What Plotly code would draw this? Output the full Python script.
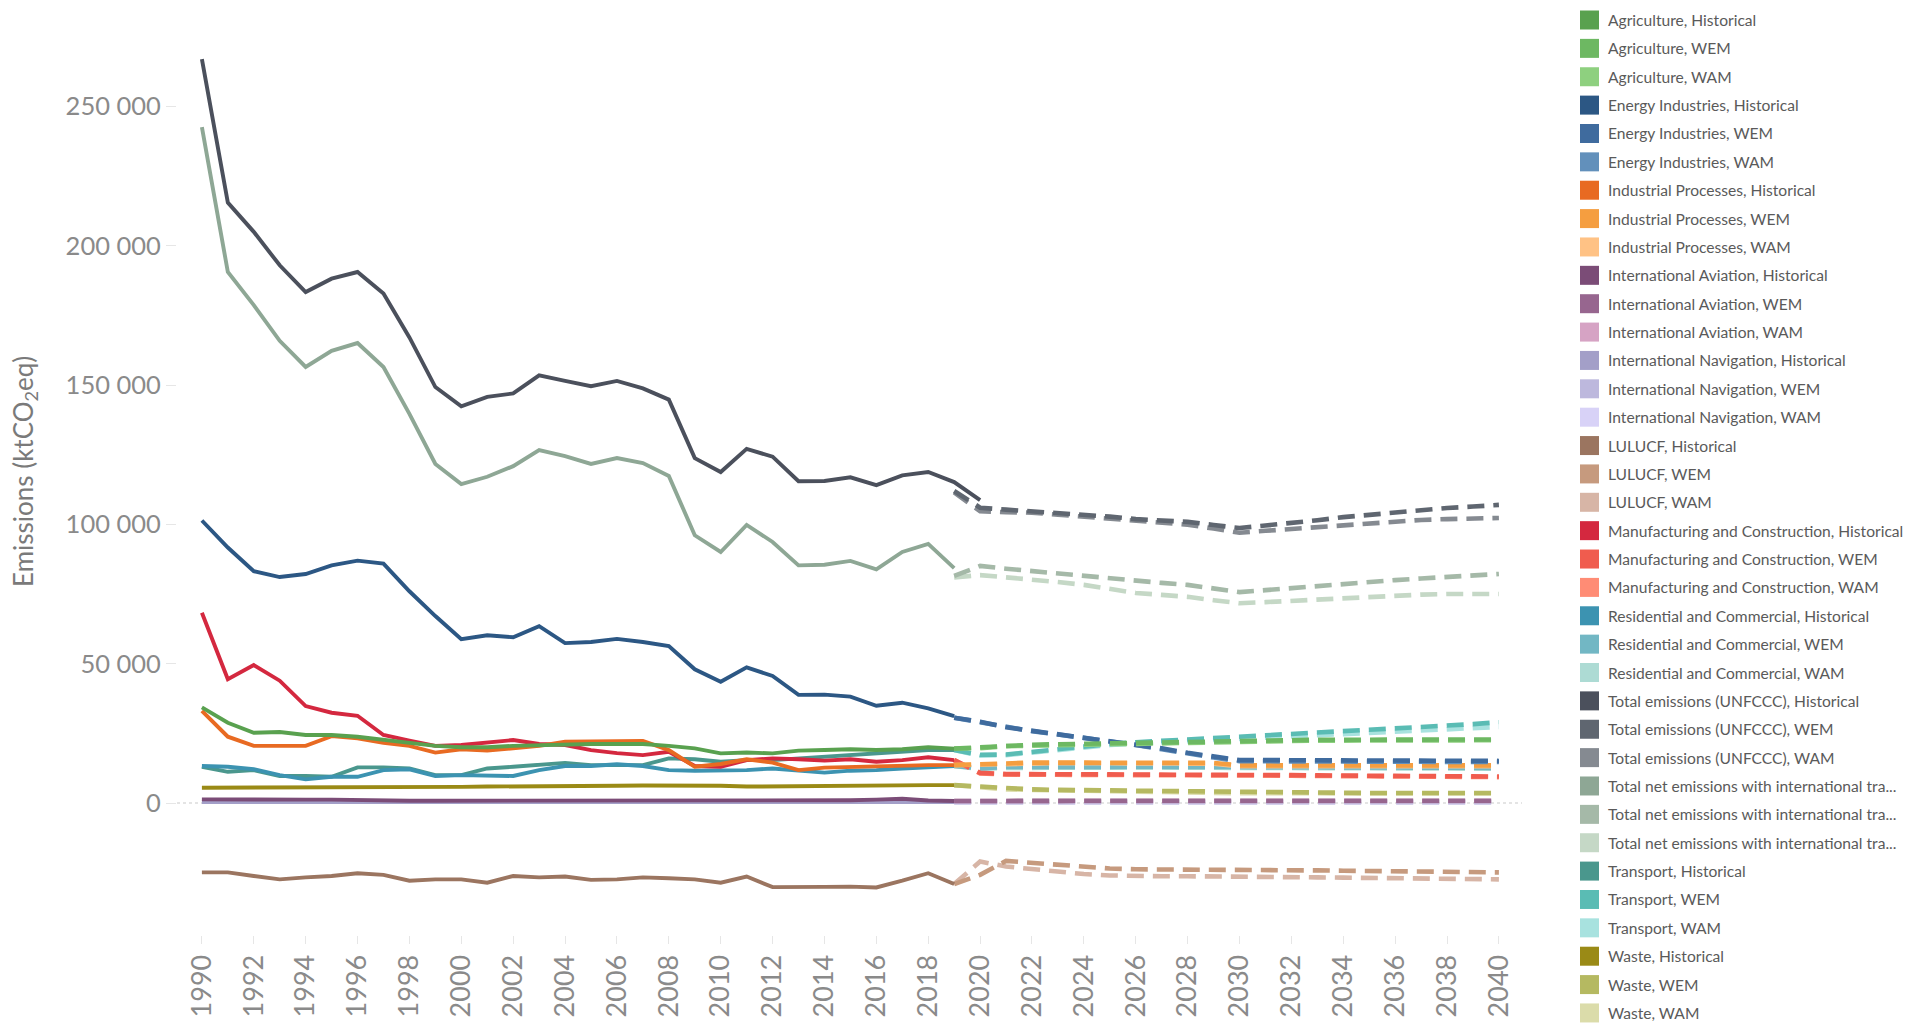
import plotly.graph_objects as go

# ---- data (ktCO2eq) ----
years_hist = list(range(1990, 2020))
years_total_hist = list(range(1990, 2021))
years_proj = list(range(2019, 2041))
tick_years = list(range(1990, 2041, 2))
y_ticks = [0, 50000, 100000, 150000, 200000, 250000]

agriculture_hist = [34300, 28800, 25200, 25500, 24400, 24400, 23800, 22600, 21600, 20500,
                    20000, 20000, 20500, 20800, 20800, 21200, 21200, 21200, 20500, 19600,
                    17800, 18100, 17800, 18800, 19000, 19300, 19000, 19300, 20000, 19500]
agriculture_wem = [19500, 20000, 20700, 20900, 21100, 21300, 21500, 21700, 21900, 22100, 22300,
                   22500, 22600, 22600, 22700, 22700, 22800, 22800, 22800, 22800, 22800, 22800]
agriculture_wam = [19500, 19700, 20400, 20600, 20800, 21000, 21200, 21400, 21600, 21800, 22000,
                   22200, 22300, 22300, 22400, 22400, 22500, 22500, 22500, 22500, 22500, 22500]

energy_hist = [101400, 91700, 83200, 81100, 82200, 85300, 87000, 85900, 76000, 67100,
               58800, 60200, 59500, 63500, 57400, 57800, 58900, 57800, 56300, 48000,
               43500, 48700, 45600, 38800, 38900, 38200, 34900, 36000, 34000, 31200]
energy_wem = [30600, 29200, 27200, 26000, 24800, 23600, 22400, 21100, 19600, 18000, 16600,
              15400, 15400, 15400, 15300, 15300, 15300, 15200, 15200, 15200, 15200, 15100]
energy_wam = [30600, 29000, 27000, 25800, 24600, 23400, 22200, 20800, 19300, 17700, 16300,
              15000, 15000, 15000, 14900, 14900, 14900, 14800, 14800, 14800, 14800, 14700]

industrial_hist = [33100, 23800, 20500, 20500, 20500, 24000, 23200, 21600, 20500, 18100,
                   19300, 18800, 19600, 20500, 22000, 22200, 22300, 22300, 19000, 13000,
                   14000, 15700, 14500, 11800, 12700, 13000, 13000, 13300, 13600, 13600]
industrial_wem = [13600, 14000, 14400, 14500, 14500, 14500, 14500, 14500, 14500, 14500, 14400,
                  13500, 13500, 13500, 13500, 13500, 13500, 13500, 13500, 13500, 13500, 13500]
industrial_wam = [13600, 13800, 14200, 14300, 14300, 14300, 14300, 14300, 14300, 14300, 14100,
                  13200, 13200, 13200, 13200, 13200, 13200, 13200, 13200, 13200, 13200, 13200]

aviation_hist = [1300, 1200, 1300, 1300, 1200, 1200, 1000, 900, 800, 800,
                 800, 800, 800, 800, 800, 800, 800, 800, 800, 700,
                 800, 800, 800, 800, 900, 1000, 1200, 1500, 900, 700]
aviation_wem = [700, 800, 800, 800, 800, 800, 800, 800, 800, 800, 800,
                800, 800, 800, 800, 800, 800, 800, 800, 800, 800, 800]
aviation_wam = [700, 700, 700, 700, 700, 700, 700, 700, 700, 700, 700,
                700, 700, 700, 700, 700, 700, 700, 700, 700, 700, 700]

navigation_hist = [300, 300, 300, 300, 300, 300, 300, 300, 300, 300,
                   300, 300, 300, 300, 300, 300, 300, 300, 300, 300,
                   300, 300, 300, 300, 300, 300, 300, 300, 300, 300]
navigation_wem = [300, 300, 300, 300, 300, 300, 300, 300, 300, 300, 300,
                  300, 300, 300, 300, 300, 300, 300, 300, 300, 300, 300]
navigation_wam = [300, 300, 300, 300, 300, 300, 300, 300, 300, 300, 300,
                  300, 300, 300, 300, 300, 300, 300, 300, 300, 300, 300]

lulucf_hist = [-24900, -24900, -26200, -27400, -26700, -26200, -25200, -25800, -27900, -27400,
               -27400, -28600, -26200, -26700, -26400, -27600, -27400, -26700, -27000, -27400,
               -28600, -26400, -30200, -30300, -30100, -30000, -30300, -27900, -25200, -29100]
lulucf_wem = [-29100, -25800, -20800, -21500, -22300, -23000, -23500, -23800, -23800, -23800, -23800,
              -23800, -24000, -24100, -24200, -24300, -24400, -24500, -24600, -24700, -24800, -24900]
lulucf_wam = [-29100, -21000, -22800, -23800, -24800, -25500, -26000, -26300, -26300, -26300, -26300,
              -26300, -26500, -26600, -26700, -26800, -26900, -27000, -27100, -27200, -27300, -27400]

manufacturing_hist = [68300, 44400, 49500, 43900, 34800, 32400, 31300, 24400, 22400, 20500,
                      20800, 21600, 22600, 21200, 20800, 19000, 17900, 17200, 18400, 13300,
                      13000, 15400, 16000, 15700, 15200, 15700, 14800, 15400, 16400, 15400]
manufacturing_wem = [15400, 10800, 10400, 10400, 10400, 10300, 10300, 10300, 10200, 10200, 10200,
                     10100, 10000, 10000, 9900, 9900, 9800, 9800, 9700, 9700, 9600, 9500]
manufacturing_wam = [15400, 10600, 10200, 10200, 10200, 10100, 10100, 10100, 10000, 10000, 10000,
                     9900, 9800, 9800, 9700, 9700, 9600, 9600, 9500, 9500, 9400, 9300]

residential_hist = [13300, 13000, 12100, 10000, 8500, 9400, 9400, 11800, 12100, 9700,
                    10000, 9700, 9700, 11800, 13300, 13300, 13900, 13300, 11800, 11600,
                    11600, 11800, 12400, 11800, 10900, 11600, 11800, 12400, 13000, 13300]
residential_wem = [13300, 12400, 12900, 13000, 13000, 13000, 13000, 13000, 13000, 13000, 12900,
                   12600, 12600, 12600, 12600, 12600, 12600, 12600, 12600, 12600, 12600, 12600]
residential_wam = [13300, 12200, 12600, 12700, 12700, 12700, 12700, 12700, 12700, 12700, 12600,
                   12300, 12300, 12300, 12300, 12300, 12300, 12300, 12300, 12300, 12300, 12300]

total_hist = [267000, 215500, 205000, 193000, 183400, 188200, 190600, 182900, 167100, 149300,
              142400, 145800, 147000, 153500, 151500, 149600, 151500, 148800, 144800, 123800,
              118800, 127100, 124300, 115500, 115600, 116900, 114100, 117600, 118800, 115200,
              108700]
total_wem = [112000, 106000, 105300, 104700, 104200, 103700, 102800, 101900, 101400, 100900, 99800,
             98700, 99600, 100400, 101500, 102600, 103500, 104400, 105100, 105900, 106400, 107000]
total_wam = [111500, 104700, 104400, 104200, 103500, 102800, 102000, 101300, 100600, 99900, 98500,
             97000, 97700, 98400, 99100, 99900, 100600, 101300, 101600, 101900, 102100, 102300]

total_net_hist = [242600, 190600, 178700, 165900, 156500, 162300, 165100, 156500, 139700, 121700,
                  114500, 117100, 120900, 126700, 124500, 121700, 123800, 122000, 117400, 96100,
                  90100, 99800, 93700, 85300, 85500, 86900, 83900, 90100, 93000, 84300]
total_net_wem = [81500, 85100, 84100, 83200, 82300, 81500, 80600, 79700, 79000, 78300, 77000,
                 75700, 76400, 77200, 77900, 78600, 79300, 80000, 80600, 81200, 81700, 82200]
total_net_wam = [81000, 81800, 81000, 80300, 79300, 78300, 76800, 75400, 74700, 74000, 72800,
                 71700, 72100, 72600, 73100, 73600, 74100, 74600, 74800, 75000, 75000, 75000]

transport_hist = [13000, 11200, 11800, 9700, 9700, 9400, 12800, 12800, 12400, 10000,
                  10000, 12400, 13000, 13600, 14400, 13600, 13600, 13600, 16000, 15700,
                  14800, 15400, 15400, 16000, 16400, 17200, 17800, 18400, 19000, 19000]
transport_wem = [19000, 17300, 17400, 18400, 19500, 20500, 21200, 21800, 22300, 22800, 23300,
                 23800, 24200, 24600, 25100, 25600, 26000, 26500, 27000, 27600, 28300, 29000]
transport_wam = [19000, 17000, 17200, 18200, 19200, 20100, 20800, 21300, 21800, 22200, 22700,
                 23100, 23500, 23900, 24300, 24700, 25100, 25500, 25900, 26300, 26800, 27300]

waste_hist = [5500, 5500, 5500, 5500, 5600, 5600, 5600, 5700, 5700, 5800,
              5800, 5900, 5900, 6000, 6100, 6200, 6200, 6300, 6300, 6300,
              6200, 5900, 6000, 6200, 6300, 6300, 6300, 6400, 6400, 6400]
waste_wem = [6400, 5900, 5100, 4900, 4700, 4600, 4500, 4400, 4200, 4000, 3800,
             3700, 3700, 3700, 3700, 3700, 3600, 3600, 3600, 3600, 3600, 3600]
waste_wam = [6400, 5700, 4900, 4700, 4500, 4400, 4300, 4200, 4000, 3800, 3600,
             3500, 3500, 3500, 3500, 3500, 3400, 3400, 3400, 3400, 3400, 3400]

# legend order: (sector label, hist, wem, wam, (hist colour, wem colour, wam colour))
series = [
    ("Agriculture", agriculture_hist, agriculture_wem, agriculture_wam, ("#59A14F", "#6DB862", "#8ED07F")),
    ("Energy Industries", energy_hist, energy_wem, energy_wam, ("#2C5784", "#3F6B9E", "#6290BB")),
    ("Industrial Processes", industrial_hist, industrial_wem, industrial_wam, ("#E86A22", "#F59E40", "#FFC285")),
    ("International Aviation", aviation_hist, aviation_wem, aviation_wam, ("#7B4C77", "#97668F", "#D6A3C4")),
    ("International Navigation", navigation_hist, navigation_wem, navigation_wam, ("#A39FC8", "#BDB8DD", "#D8D2F7")),
    ("LULUCF", lulucf_hist, lulucf_wem, lulucf_wam, ("#9B7560", "#C69A7E", "#D7B5A6")),
    ("Manufacturing and Construction", manufacturing_hist, manufacturing_wem, manufacturing_wam, ("#D4283F", "#F05C4E", "#FF8C75")),
    ("Residential and Commercial", residential_hist, residential_wem, residential_wam, ("#3C93B1", "#72B7C4", "#ADDBD4")),
    ("Total emissions (UNFCCC)", total_hist, total_wem, total_wam, ("#4B505C", "#5F6670", "#858A91")),
    ("Total net emissions with international tra...", total_net_hist, total_net_wem, total_net_wam, ("#8EA795", "#A5B9A8", "#C5D8C6")),
    ("Transport", transport_hist, transport_wem, transport_wam, ("#4A978D", "#5ABCB4", "#A8E2DF")),
    ("Waste", waste_hist, waste_wem, waste_wam, ("#9A8A16", "#B5B961", "#DBDCAA")),
]
scenarios = ["Historical", "WEM", "WAM"]

# page puts the figure 8px in from the top-left, so work in figure pixels
OFF = 8
W, H = 1919, 1024
PL, PR, PT, PB = 177 - OFF, 1522 - OFF, 20 - OFF, 935 - OFF


def xp(px):
    # screen pixel -> paper
    return (px - OFF - PL) / (PR - PL)


def yp(py):
    return (PB - (py - OFF)) / (PB - PT)


fig = go.Figure()

# navigation first so it sits underneath, then reverse legend order
draw_order = [4] + [i for i in reversed(range(len(series))) if i != 4]
for i in draw_order:
    name, hist, wem, wam, cols = series[i]
    hx = years_total_hist if len(hist) == len(years_total_hist) else years_hist
    fig.add_trace(go.Scatter(x=years_proj, y=wam, mode="lines", name=name + ", WAM",
                             line=dict(color=cols[2], width=4.6, dash="17px,9px")))
    fig.add_trace(go.Scatter(x=years_proj, y=wem, mode="lines", name=name + ", WEM",
                             line=dict(color=cols[1], width=4.6, dash="17px,9px")))
    fig.add_trace(go.Scatter(x=hx, y=hist, mode="lines", name=name + ", Historical",
                             line=dict(color=cols[0], width=3.9)))

shapes = [dict(type="line", xref="paper", x0=0, x1=1, yref="y", y0=0, y1=0,
               line=dict(color="#c9c9c9", width=1.2, dash="dot"), layer="below")]
annotations = [dict(text="Emissions (ktCO<sub>2</sub>eq)", xref="paper", yref="paper",
                    x=xp(24), y=yp(472), textangle=-90, showarrow=False,
                    xanchor="center", yanchor="middle",
                    font=dict(family="Lato", size=26, color="#7a7a7a"))]

# hand-built legend with square swatches
k = 0
for name, hist, wem, wam, cols in series:
    for j, sc in enumerate(scenarios):
        cy = 20 + k * 28.37
        shapes.append(dict(type="rect", xref="paper", yref="paper",
                           x0=xp(1580), x1=xp(1599), y0=yp(cy + 9.5), y1=yp(cy - 9.5),
                           fillcolor=cols[j], line=dict(width=0)))
        label = name if name.endswith("...") else name + ", " + sc
        annotations.append(dict(text=label, xref="paper", yref="paper",
                                x=xp(1606), y=yp(cy), xanchor="left", yanchor="middle",
                                showarrow=False,
                                font=dict(family="Lato", size=15.6, color="#5a5a5a")))
        k += 1

fig.update_layout(
    width=W, height=H,
    margin=dict(l=PL, r=W - PR, t=PT, b=H - PB),
    paper_bgcolor="white", plot_bgcolor="white",
    showlegend=False,
    separators=". ",
    font=dict(family="Lato"),
    shapes=shapes, annotations=annotations,
    xaxis=dict(range=[1989.04, 2040.89], tickvals=tick_years, tickangle=-90,
               ticks="outside", ticklen=8, tickcolor="#e6e6e6", showgrid=False,
               zeroline=False, showline=False,
               tickfont=dict(family="Lato", size=27, color="#8a8a8a")),
    yaxis=dict(range=[-47380, 281050], tickvals=y_ticks, tickformat=",d",
               ticks="outside", ticklen=10, tickcolor="#e6e6e6", showgrid=False,
               zeroline=False, showline=False,
               tickfont=dict(family="Lato", size=25.5, color="#8a8a8a")),
)

fig.write_html("out.html")
